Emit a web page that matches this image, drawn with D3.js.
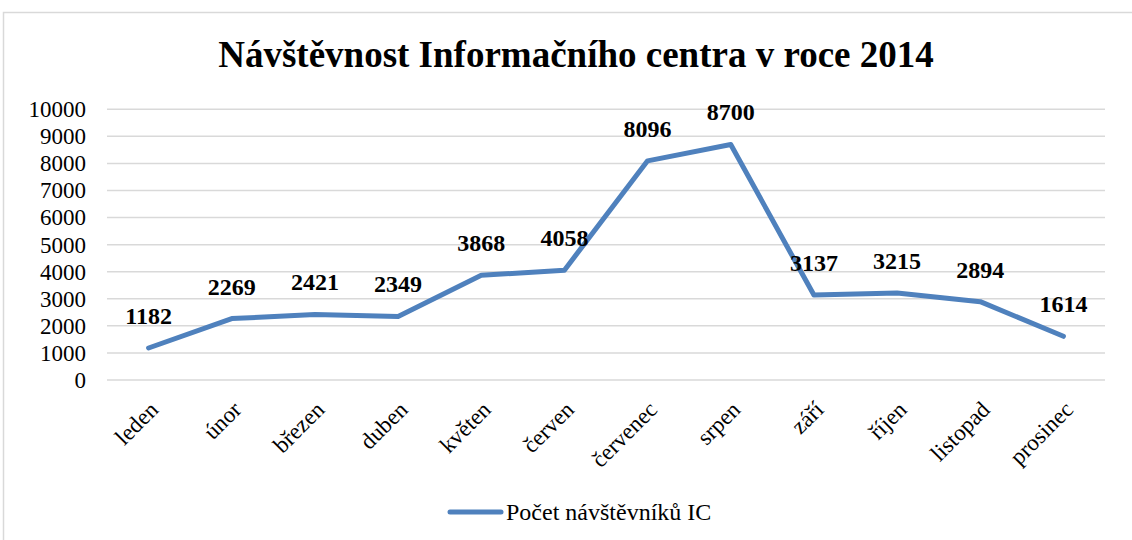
<!DOCTYPE html>
<html>
<head>
<meta charset="utf-8">
<script src="https://cdn.jsdelivr.net/npm/d3@7"></script>
<style>
  body { margin: 0; background: #fff; }
  svg { display: block; }
  svg text { font-family: "Liberation Serif", "DejaVu Serif", serif; }
</style>
</head>
<body>
<div id="chart"></div>
<script>
// Návštěvnost IC 2014
const months = ['leden','únor','březen','duben','květen','červen','červenec','srpen','září','říjen','listopad','prosinec'];
const visitors = [1182, 2269, 2421, 2349, 3868, 4058, 8096, 8700, 3137, 3215, 2894, 1614];
const yTicks = [0,1000,2000,3000,4000,5000,6000,7000,8000,9000,10000];
const seriesName = 'Počet návštěvníků IC';
const title = 'Návštěvnost Informačního centra v roce 2014';

const W = 1132, H = 540;
const BLUE = '#4f81bd';

const svg = d3.select('#chart').append('svg')
  .attr('width', W).attr('height', H);

// chart area border
svg.append('rect')
  .attr('x', 3.5).attr('y', 12.5)
  .attr('width', W + 10).attr('height', H + 10)
  .attr('fill', 'none').attr('stroke', '#d9d9d9').attr('stroke-width', 1.5);

svg.append('text')
  .attr('x', 576).attr('y', 67)
  .attr('text-anchor', 'middle')
  .attr('font-weight', 'bold').attr('font-size', 37)
  .text(title);

const x = d3.scaleBand().domain(months).range([107, 1105]);
const y = d3.scaleLinear().domain([0, 10000]).range([380, 109.3]);

// gridlines
svg.append('g')
  .selectAll('line')
  .data(yTicks)
  .join('line')
  .attr('x1', 107).attr('x2', 1105)
  .attr('y1', d => y(d)).attr('y2', d => y(d))
  .attr('stroke', '#d9d9d9').attr('stroke-width', 1.5);

// y axis labels
const yAxis = svg.append('g')
  .attr('transform', 'translate(86,0)')
  .call(d3.axisLeft(y).tickValues(yTicks).tickSize(0).tickPadding(0).tickFormat(d3.format('d')));
yAxis.attr('font-family', null);
yAxis.select('.domain').remove();
yAxis.selectAll('text')
  .attr('font-size', 23).attr('fill', '#000');

// x axis labels
const xAxis = svg.append('g')
  .attr('transform', 'translate(0,380)')
  .call(d3.axisBottom(x).tickSize(0).tickPadding(0));
xAxis.attr('font-family', null);
xAxis.select('.domain').remove();
xAxis.selectAll('text')
  .attr('font-size', 23).attr('fill', '#000')
  .attr('text-anchor', 'end')
  .attr('dy', 0)
  .attr('transform', 'translate(11,31) rotate(-45)');

// line
const line = d3.line()
  .x((d, i) => x(months[i]) + x.bandwidth() / 2)
  .y(d => y(d));

svg.append('path')
  .datum(visitors)
  .attr('d', line)
  .attr('fill', 'none')
  .attr('stroke', BLUE).attr('stroke-width', 5)
  .attr('stroke-linejoin', 'round').attr('stroke-linecap', 'round');

// data labels
svg.append('g')
  .selectAll('text')
  .data(visitors)
  .join('text')
  .attr('x', (d, i) => x(months[i]) + x.bandwidth() / 2)
  .attr('y', d => y(d) - 24)
  .attr('text-anchor', 'middle')
  .attr('font-weight', 'bold').attr('font-size', 24)
  .text(d => d);

// legend
svg.append('line')
  .attr('x1', 450).attr('x2', 501).attr('y1', 512).attr('y2', 512)
  .attr('stroke', BLUE).attr('stroke-width', 5).attr('stroke-linecap', 'round');
svg.append('text')
  .attr('x', 506).attr('y', 520)
  .attr('font-size', 24)
  .text(seriesName);
</script>
</body>
</html>
